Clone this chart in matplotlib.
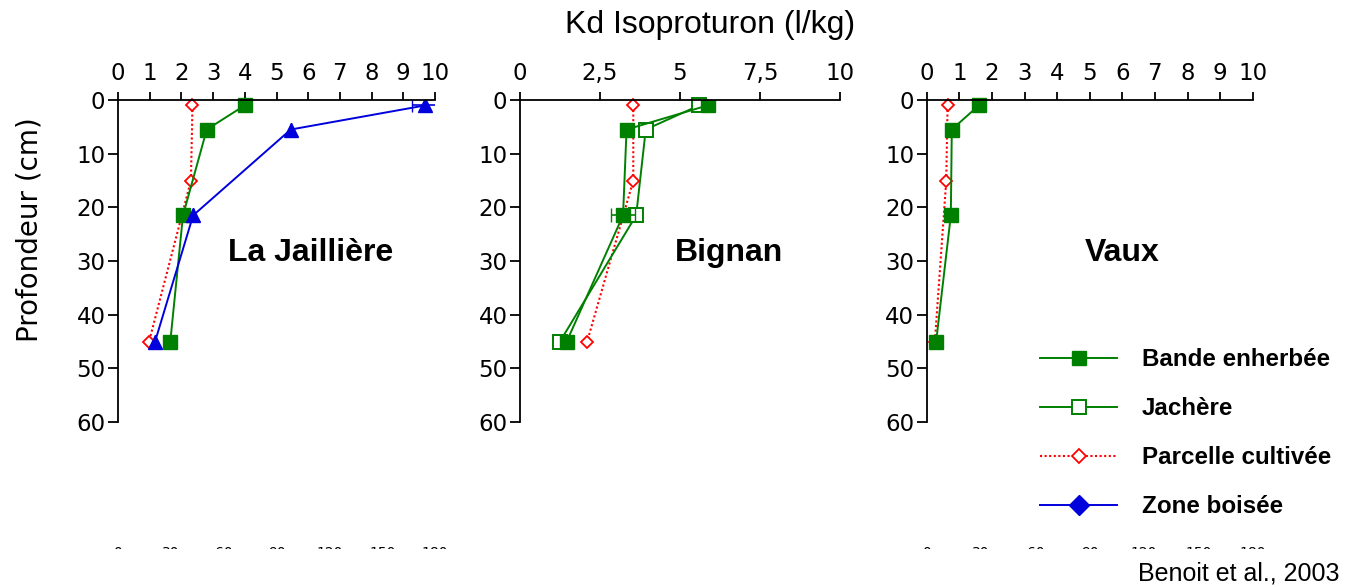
import matplotlib
matplotlib.use("Agg")
import matplotlib.pyplot as plt
from matplotlib.lines import Line2D
from matplotlib.patches import Rectangle
import matplotlib.transforms as mtransforms

# profondeurs de prelevement (cm)
depth = [1, 5.5, 21.5, 45]
depth_pc = [1, 15, 45]

# La Jaillière
jail_bande = [4.0, 2.8, 2.05, 1.65]
jail_parcelle = [2.35, 2.3, 0.98]
jail_boisee = [9.7, 5.45, 2.37, 1.17]
jail_boisee_err = [0.42, 0, 0, 0]

# Bignan
bign_bande = [5.87, 3.33, 3.22, 1.46]
bign_bande_err = [0, 0, 0.38, 0]
bign_jachere = [5.6, 3.93, 3.63, 1.25]
bign_parcelle = [3.54, 3.54, 2.1]

# Vaux
vaux_bande = [1.6, 0.77, 0.74, 0.29]
vaux_parcelle = [0.64, 0.6, 0.25]

sites = ["La Jaillière", "Bignan", "Vaux"]
xticks_1 = list(range(0, 11))
xticks_2 = [0, 2.5, 5, 7.5, 10]
xticklabels_2 = ["0", "2,5", "5", "7,5", "10"]
yticks = [0, 10, 20, 30, 40, 50, 60]
hidden_ticks = [0, 30, 60, 90, 120, 150, 180]

GREEN = "#008000"
RED = "#ff0000"
BLUE = "#0000dd"
TICK_FONT = "DejaVu Sans"
BOLD_FONT = "Liberation Sans"

fig = plt.figure(figsize=(13.45, 5.87), dpi=100)
W, H = 1345.0, 587.0

def px_axes(x0, x1, y0=100, y1=422):
    return fig.add_axes([x0 / W, 1 - y1 / H, (x1 - x0) / W, (y1 - y0) / H])

ax1 = px_axes(118, 435)
ax2 = px_axes(520, 840)
ax3 = px_axes(926.7, 1252.7)

ax1.set_xticks(xticks_1)
ax3.set_xticks(xticks_1)
ax2.set_xticks(xticks_2)
ax2.set_xticklabels(xticklabels_2)

for ax in (ax1, ax2, ax3):
    ax.set_xlim(0, 10)
    ax.set_ylim(60, 0)
    for s in ("bottom", "right"):
        ax.spines[s].set_visible(False)
    for s in ("top", "left"):
        ax.spines[s].set_linewidth(1.3)
    ax.xaxis.set_ticks_position("top")
    ax.tick_params(axis="x", top=True, bottom=False, labeltop=True,
                   labelbottom=False, direction="out", length=6, width=1.3, pad=5)
    ax.tick_params(axis="y", direction="out", length=7, width=1.3, pad=2)
    ax.set_yticks(yticks)
    for lab in ax.get_xticklabels() + ax.get_yticklabels():
        lab.set_fontfamily(TICK_FONT)
        lab.set_fontsize(16.5)
    ax.set_facecolor("none")

lw = 1.4
sq = dict(marker="s", markersize=9.5, lw=lw, color=GREEN, clip_on=False)
red = dict(marker="D", markersize=6.5, lw=1.5, ls=(0, (1, 1.2)), color=RED,
           markerfacecolor="white", markeredgewidth=1.3, clip_on=False)

# La Jaillière
ax1.plot(jail_parcelle, depth_pc, **red)
ax1.plot(jail_bande, depth, **sq)
ax1.errorbar(jail_boisee, depth, xerr=jail_boisee_err, color=BLUE, lw=lw,
             marker="^", markersize=10, capsize=5, elinewidth=1.2)

# Bignan
ax2.plot(bign_parcelle, depth_pc, **red)
ax2.plot(bign_jachere, depth, markerfacecolor="white", markeredgewidth=1.4, **sq)
ax2.errorbar(bign_bande, depth, xerr=bign_bande_err, color=GREEN, lw=lw,
             marker="s", markersize=9.5, capsize=5, elinewidth=1.2)

# Vaux
ax3.plot(vaux_parcelle, depth_pc, **red)
ax3.plot(vaux_bande, depth, **sq)

# noms des sites
for ax, name, xpos in zip((ax1, ax2, ax3), sites, (6.09, 6.53, 5.99)):
    ax.text(xpos, 28.6, name, ha="center", va="center", fontsize=23,
            fontweight="bold", family=BOLD_FONT)

fig.text(710 / W, 1 - 25 / H, "Kd Isoproturon (l/kg)", ha="center", va="center",
         fontsize=23, family=BOLD_FONT)
fig.text(30 / W, 1 - 230 / H, "Profondeur (cm)", ha="center", va="center",
         rotation=90, fontsize=20, family=TICK_FONT)

# legende
handles = [
    Line2D([], [], color=GREEN, lw=lw, marker="s", markersize=9.5),
    Line2D([], [], color=GREEN, lw=lw, marker="s", markersize=9.5,
           markerfacecolor="white", markeredgewidth=1.4),
    Line2D([], [], color=RED, lw=1.5, ls=(0, (1, 1.2)), marker="D", markersize=7,
           markerfacecolor="white", markeredgewidth=1.3),
    Line2D([], [], color=BLUE, lw=lw, marker="D", markersize=10),
]
labels = ["Bande enherbée", "Jachère", "Parcelle cultivée", "Zone boisée"]
leg = fig.legend(handles, labels, loc="upper left",
                 bbox_to_anchor=(1040 / W, 1 - 348 / H), frameon=False,
                 borderpad=0, borderaxespad=0, handlelength=3.2,
                 handletextpad=1.0, labelspacing=1.08,
                 prop={"family": BOLD_FONT, "weight": "bold", "size": 17.4})

# graduations d'un axe masque, coupees en bas de la figure
for ax in (ax1, ax3):
    trans = mtransforms.blended_transform_factory(ax.transAxes, fig.transFigure)
    for v in hidden_ticks:
        ax.text(v / 180, 1 - 546 / H, str(v), transform=trans, ha="center",
                va="top", fontsize=10, family=TICK_FONT)
fig.patches.append(Rectangle((0, 0), 1, 1 - 549 / H, transform=fig.transFigure,
                             facecolor="white", edgecolor="none", zorder=10))
fig.text(1340 / W, 1 - 574 / H, "Benoit et al., 2003", ha="right", va="center",
         fontsize=18, family=["Liberation Sans Narrow", "Liberation Sans"],
         zorder=11)

fig.savefig("out.png", dpi=100, facecolor="white")
